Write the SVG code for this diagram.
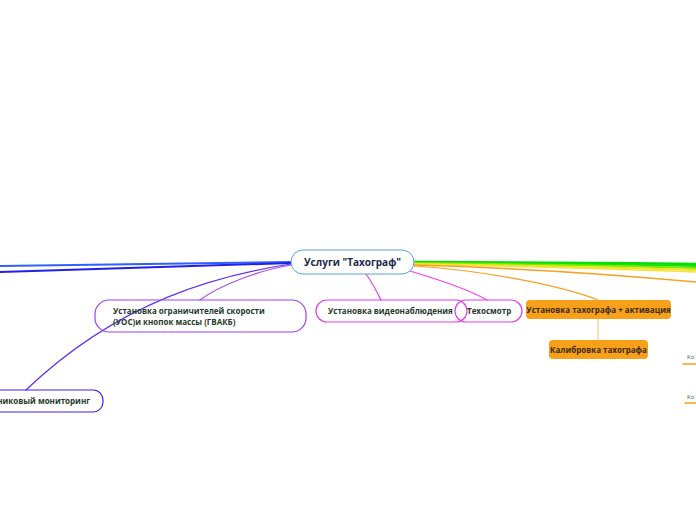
<svg xmlns="http://www.w3.org/2000/svg" width="696" height="520" viewBox="0 0 696 520">
<style>
.t{font-family:"Open Sans","Noto Sans","DejaVu Sans",sans-serif;font-weight:bold;}
.c{fill:none;stroke-linecap:round;}
.sub{font-size:8px;fill:#1f3a2a;}
.or{fill:#f7a11a;}
.ot{font-size:8px;fill:#3b2a10;text-anchor:middle;}
.sm{font-family:"Open Sans","DejaVu Sans",sans-serif;font-size:6px;fill:#555;}
</style>
<rect width="696" height="520" fill="#fff"/>
<g id="connectors">
  <path class="c" d="M414,262 C500,262 600,263 696,264" stroke="#00e000" stroke-width="2.5"/>
  <path class="c" d="M414,263 C500,263 600,264 696,266" stroke="#10e010" stroke-width="2"/>
  <path class="c" d="M414,263 C500,264 600,265 696,268" stroke="#80e800" stroke-width="2"/>
  <path class="c" d="M414,264 C500,265 600,267 696,270" stroke="#e8e820" stroke-width="2"/>
  <path class="c" d="M414,264 C500,266 600,268 696,272" stroke="#f8e040" stroke-width="1.5"/>
  <path class="c" d="M414,265 C520,268 620,275 696,282" stroke="#f8a020" stroke-width="1.5"/>
  <path class="c" d="M414,266 C480,270 560,285 598,300" stroke="#f8a020" stroke-width="1.2"/>
  <path class="c" d="M598,319 L598,340" stroke="#f8c070" stroke-width="1"/>
  <path class="c" d="M410,271 C440,280 470,290 487,300" stroke="#f040f0" stroke-width="1.2"/>
  <path class="c" d="M366,274 C372,282 377,292 381,300" stroke="#e040f0" stroke-width="1.2"/>
  <path class="c" d="M291,262 C200,263 100,264 0,266" stroke="#3060ff" stroke-width="2"/>
  <path class="c" d="M291,263 C200,265 100,268 0,272" stroke="#2020e8" stroke-width="2"/>
  <path class="c" d="M291,265 C260,270 220,285 200,300" stroke="#b050f0" stroke-width="1.2"/>
  <path class="c" d="M291,264 C220,275 120,300 26,390" stroke="#6030f0" stroke-width="1.2"/>
  <path class="c" d="M683,364 L696,364" stroke="#f8a020" stroke-width="1.5"/>
  <path class="c" d="M685,403 L696,403" stroke="#f8a020" stroke-width="1.5"/>
</g>
<g id="center">
  <rect x="291" y="250" width="123" height="24" rx="12" fill="#fff" stroke="#5aa0d8" stroke-width="1"/>
  <text class="t" x="352.5" y="266" font-size="10" fill="#1a2a4a" text-anchor="middle">Услуги "Тахограф"</text>
</g>
<g id="uos">
  <rect x="95" y="300" width="211" height="32" rx="14" fill="none" stroke="#a040f0" stroke-width="1.2"/>
  <text class="t sub" x="113" y="314">Установка ограничителей скорости</text>
  <text class="t sub" x="113" y="325">(УОС)и кнопок массы (ГВАКБ)</text>
</g>
<g id="monitoring">
  <rect x="-40" y="390" width="143" height="22" rx="10" fill="none" stroke="#4020e0" stroke-width="1.2"/>
  <text class="t sub" x="90" y="404" text-anchor="end">Спутниковый мониторинг</text>
</g>
<g id="video">
  <rect x="316" y="300" width="151" height="22" rx="11" fill="none" stroke="#e040f0" stroke-width="1.2"/>
  <text class="t sub" x="328" y="314">Установка видеонаблюдения</text>
</g>
<g id="techosmotr">
  <rect x="455" y="300" width="67" height="22" rx="11" fill="none" stroke="#e040f0" stroke-width="1.2"/>
  <text class="t sub" x="467" y="314">Техосмотр</text>
</g>
<g id="install">
  <rect class="or" x="526" y="300" width="145" height="19" rx="4"/>
  <text class="t ot" x="598.5" y="313">Установка тахографа + активация</text>
</g>
<g id="calibr">
  <rect class="or" x="549" y="340" width="99" height="19" rx="4"/>
  <text class="t ot" x="598.5" y="353">Калибровка тахографа</text>
</g>
<g id="ko1">
  <text class="sm" x="687" y="359">Ко</text>
</g>
<g id="ko2">
  <text class="sm" x="687" y="399">Ко</text>
</g>
</svg>
